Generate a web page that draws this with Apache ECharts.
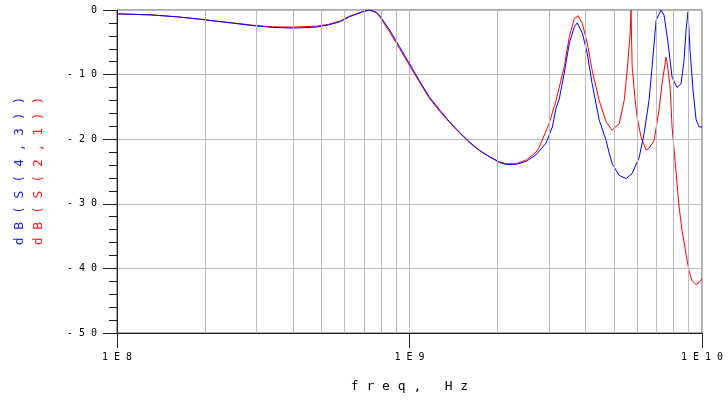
<!DOCTYPE html>
<html>
<head>
<meta charset="utf-8">
<script src="https://cdn.jsdelivr.net/npm/echarts@6/dist/echarts.min.js"></script>
<style>
  html, body { margin: 0; padding: 0; background: #fff; }
  #chart { width: 728px; height: 406px; }
</style>
</head>
<body>
<div id="chart"></div>
<script>
// frequency points (Hz) and dB values
var freqBlue = [1.0e8, 1.3e8, 1.6e8, 1.9e8, 2.2e8, 2.5e8, 2.9e8, 3.4e8, 4.0e8, 4.8e8, 5.3e8, 5.8e8, 6.2e8, 6.9e8, 7.3e8, 7.7e8, 7.9e8, 8.55e8, 9.25e8,
  1.0e9, 1.08e9, 1.17e9, 1.27e9, 1.37e9, 1.48e9, 1.60e9, 1.73e9, 1.875e9, 2.03e9, 2.14e9, 2.32e9, 2.51e9, 2.71e9, 2.93e9, 3.08e9, 3.17e9, 3.25e9,
  3.38e9, 3.52e9, 3.66e9, 3.745e9, 3.9e9, 4.05e9, 4.21e9, 4.45e9, 4.70e9, 4.82e9, 4.93e9, 5.21e9, 5.50e9, 5.77e9, 6.10e9, 6.34e9, 6.59e9, 6.75e9,
  6.97e9, 7.245e9, 7.42e9, 7.655e9, 7.90e9, 8.215e9, 8.48e9, 8.68e9, 8.82e9, 8.96e9, 9.10e9, 9.32e9, 9.54e9, 9.77e9, 1.0e10];
var s43 = [-0.6, -0.75, -1.05, -1.4, -1.75, -2.05, -2.4, -2.7, -2.8, -2.65, -2.3, -1.8, -1.1, -0.3, 0, -0.35, -0.8, -3.1, -5.7,
  -8.3, -10.9, -13.5, -15.5, -17.3, -18.9, -20.4, -21.7, -22.7, -23.6, -23.9, -23.9, -23.4, -22.4, -20.6, -18.1, -15.2, -13.8,
  -9.8, -5.1, -2.6, -2.0, -3.6, -6.7, -11.4, -17.0, -20.2, -22.2, -23.8, -25.6, -26.1, -25.3, -22.8, -19.1, -14.0, -8.8,
  -1.6, 0, -0.8, -5.1, -10.4, -12.0, -11.4, -7.8, -3.1, -0.3, -6.2, -12.4, -16.9, -18.1, -18.1];

var freqRed = [1.0e8, 1.3e8, 1.6e8, 1.9e8, 2.2e8, 2.5e8, 2.9e8, 3.4e8, 4.0e8, 4.8e8, 5.3e8, 5.8e8, 6.2e8, 6.9e8, 7.3e8, 7.7e8, 7.9e8, 8.55e8, 9.25e8,
  1.0e9, 1.08e9, 1.17e9, 1.27e9, 1.37e9, 1.48e9, 1.60e9, 1.73e9, 1.875e9, 2.03e9, 2.14e9, 2.32e9, 2.51e9, 2.71e9, 2.78e9, 3.0e9, 3.17e9,
  3.38e9, 3.52e9, 3.66e9, 3.775e9, 3.9e9, 4.05e9, 4.21e9, 4.45e9, 4.70e9, 4.93e9, 5.21e9, 5.42e9, 5.55e9, 5.68e9, 5.72e9, 5.77e9, 5.91e9,
  6.0e9, 6.19e9, 6.44e9, 6.59e9, 6.86e9, 7.13e9, 7.30e9, 7.535e9, 7.59e9, 7.78e9, 7.90e9, 8.09e9, 8.35e9, 8.545e9, 8.82e9, 9.03e9,
  9.245e9, 9.54e9, 9.77e9, 1.0e10];
var s21 = [-0.6, -0.75, -1.05, -1.4, -1.75, -2.0, -2.35, -2.6, -2.65, -2.5, -2.2, -1.7, -1.0, -0.25, 0, -0.4, -1.0, -3.4, -6.0,
  -8.6, -11.1, -13.7, -15.7, -17.4, -19.0, -20.5, -21.7, -22.7, -23.5, -23.8, -23.8, -23.2, -22.0, -21.2, -17.6, -14.0,
  -8.8, -4.1, -1.3, -0.9, -2.1, -5.1, -9.3, -14.0, -17.3, -18.6, -17.6, -14.0, -9.3, -3.6, 0, -8.8, -14.0,
  -16.6, -19.7, -21.7, -21.4, -20.2, -15.5, -11.4, -7.3, -8.0, -11.9, -18.1, -23.3, -30.5, -34.1, -37.8, -40.4,
  -41.9, -42.5, -42.2, -41.6];

// minor log grid lines
var minorFreqs = [2e8, 3e8, 4e8, 5e8, 6e8, 7e8, 8e8, 9e8, 2e9, 3e9, 4e9, 5e9, 6e9, 7e9, 8e9, 9e9];

var FONT = 'DejaVu Sans Mono';
var GRIDC = '#bcbcbc';

function spaced(s) {
  return String(s).split('').join(' ');
}
function pairs(xs, ys) {
  return xs.map(function (x, i) { return [x, ys[i]]; });
}

var chart = echarts.init(document.getElementById('chart'), null, { renderer: 'canvas' });

chart.setOption({
  animation: false,
  backgroundColor: '#fff',
  grid: {
    left: 117, right: 26, top: 10, bottom: 73,
    show: true, borderColor: '#555', borderWidth: 1, backgroundColor: 'transparent'
  },
  xAxis: {
    type: 'log',
    logBase: 10,
    min: 1e8,
    max: 1e10,
    name: spaced('freq,') + '   ' + spaced('Hz'),
    nameLocation: 'middle',
    nameGap: 47,
    nameTextStyle: { fontFamily: FONT, fontSize: 13, color: '#000' },
    axisLine: { onZero: false, lineStyle: { color: '#222', width: 1 } },
    axisTick: { show: true, length: 15, lineStyle: { color: '#222' } },
    axisLabel: {
      margin: 19,
      fontFamily: FONT, fontSize: 10, color: '#000',
      formatter: function (v) {
        return spaced('1E' + Math.round(Math.log10(v)));
      }
    },
    splitLine: { show: true, lineStyle: { color: GRIDC, width: 1 } }
  },
  yAxis: {
    type: 'value',
    min: -50,
    max: 0,
    interval: 10,
    axisLine: { show: true, onZero: false, lineStyle: { color: '#222', width: 1 } },
    axisTick: { show: true, length: 14, lineStyle: { color: '#222' } },
    minorTick: { show: true, splitNumber: 5, length: 8, lineStyle: { color: '#222' } },
    axisLabel: {
      margin: 20,
      fontFamily: FONT, fontSize: 10, color: '#000',
      formatter: function (v) { return spaced(v); }
    },
    splitLine: { show: true, lineStyle: { color: GRIDC, width: 1 } }
  },
  graphic: [
    {
      type: 'text', x: 20, y: 171, rotation: Math.PI / 2,
      style: { text: spaced('dB(S(4,3))'), fill: '#1a1aff', font: '13px "DejaVu Sans Mono"', align: 'center', verticalAlign: 'middle' }
    },
    {
      type: 'text', x: 39, y: 171, rotation: Math.PI / 2,
      style: { text: spaced('dB(S(2,1))'), fill: '#ff1a1a', font: '13px "DejaVu Sans Mono"', align: 'center', verticalAlign: 'middle' }
    }
  ],
  series: [
    {
      type: 'line',
      data: [],
      z: 1,
      silent: true,
      markLine: {
        silent: true,
        symbol: 'none',
        label: { show: false },
        lineStyle: { color: GRIDC, width: 1, type: 'solid' },
        data: minorFreqs.map(function (f) { return { xAxis: f }; })
      }
    },
    {
      name: 'dB(S(2,1))',
      type: 'line',
      data: pairs(freqRed, s21),
      showSymbol: false,
      z: 3,
      lineStyle: { color: '#ff0000', width: 1 },
      itemStyle: { color: '#ff0000' }
    },
    {
      name: 'dB(S(4,3))',
      type: 'line',
      data: pairs(freqBlue, s43),
      showSymbol: false,
      z: 4,
      lineStyle: { color: '#0000ff', width: 1 },
      itemStyle: { color: '#0000ff' }
    }
  ]
});
</script>
</body>
</html>
